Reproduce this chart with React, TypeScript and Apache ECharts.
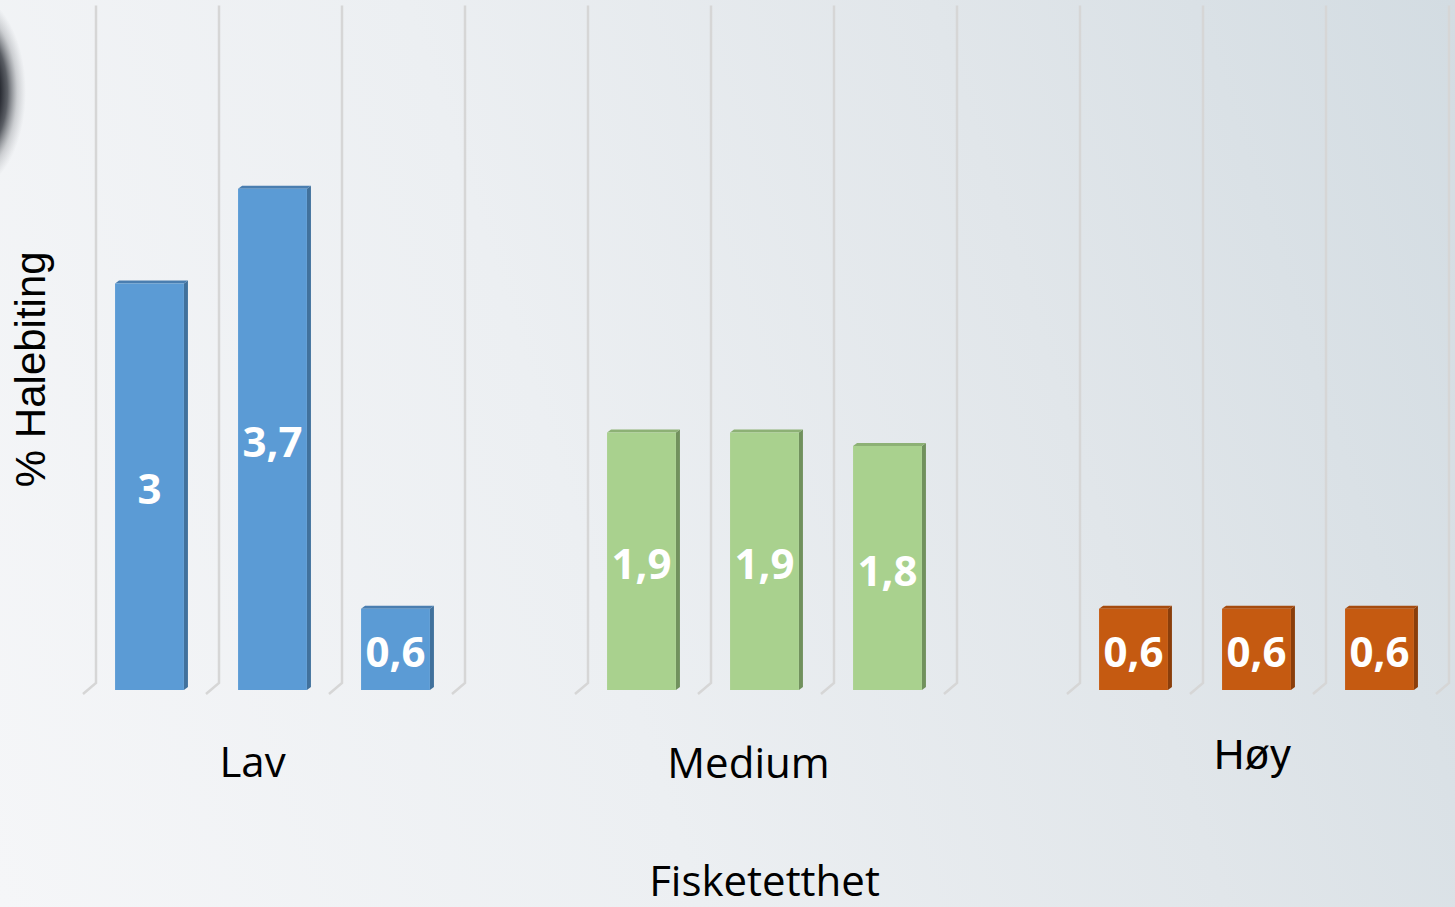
import React, { useEffect, useRef } from 'react';
import * as echarts from 'echarts';

// ---- data ----
const groups = ['Lav', 'Medium', 'Høy'];
const lavValues = [3, 3.7, 0.6];
const mediumValues = [1.9, 1.9, 1.8];
const hoyValues = [0.6, 0.6, 0.6];
const groupValues = [lavValues, mediumValues, hoyValues];
const yTitle = '% Halebiting';
const xTitle = 'Fisketetthet';
const yMin = 0;
const yMax = 5;

// ---- styles ----
const groupColors = [
  { front: '#5b9bd5', side: '#41719c', top: '#4a7eb0' },
  { front: '#a9d18e', side: '#71915d', top: '#8db175' },
  { front: '#c55a11', side: '#8a3e0b', top: '#a64b0e' },
];
const groupLabelStyle = [
  { padding: [9, 40, 0, 0], fontFamily: 'Open Sans' },
  { padding: [10, 32, 0, 0], fontFamily: 'Open Sans' },
  { padding: [3, 8, 0, 0], fontFamily: 'Liberation Sans' },
];

type Slot = { name: string; group: number; pos: number; value: number | null };
const slots: Slot[] = [];
groups.forEach((g, gi) => {
  if (gi > 0) slots.push({ name: `gap-${gi}`, group: -1, pos: -1, value: null });
  groupValues[gi].forEach((v, k) => slots.push({ name: `${g}-${k + 1}`, group: gi, pos: k, value: v }));
});

const fmt = (v: number) => String(v).replace('.', ',');

export default function App() {
  const ref = useRef<HTMLDivElement>(null);
  useEffect(() => {
    if (!ref.current) return;
    const chart = echarts.init(ref.current, null, { renderer: 'svg' });

    const axisData = slots.map((s) => {
      if (s.pos === 1) {
        return { value: s.name, textStyle: groupLabelStyle[s.group] };
      }
      return { value: s.name };
    });

    const barData = slots
      .map((s, i) => (s.value == null ? null : [i, s.value, s.group]))
      .filter((d) => d != null);

    const gridData = slots.map((s, i) => [i, 0]);

    const DX = 4, DY = 3; // bar depth
    const GX = 8, GY = 7, FX = 5, FY = 4; // wall / floor offsets

    chart.setOption({
      animation: false,
      grid: { left: 88, right: 14, top: 12.5, bottom: 217 },
      graphic: [
        {
          type: 'ellipse',
          shape: { cx: -32, cy: 92, rx: 58, ry: 100 },
          silent: true,
          style: {
            fill: new echarts.graphic.RadialGradient(0.5, 0.5, 0.5, [
              { offset: 0, color: 'rgba(12,14,20,1)' },
              { offset: 0.5, color: 'rgba(18,20,28,1)' },
              { offset: 0.68, color: 'rgba(40,44,52,0.75)' },
              { offset: 0.85, color: 'rgba(90,94,100,0.25)' },
              { offset: 1, color: 'rgba(120,124,130,0)' },
            ]),
          },
        },
      ],
      xAxis: {
        type: 'category',
        data: axisData,
        axisLine: { show: false },
        axisTick: { show: false },
        splitLine: { show: false },
        axisLabel: {
          interval: 0,
          margin: 40,
          fontSize: 42,
          fontFamily: 'Open Sans',
          color: '#000',
          formatter: (val: string) => {
            const s = slots.find((x) => x.name === val);
            return s && s.pos === 1 ? groups[s.group] : '';
          },
        },
        name: xTitle,
        nameLocation: 'middle',
        nameGap: 172,
        nameTextStyle: { fontSize: 42, lineHeight: 34, fontFamily: 'Open Sans', color: '#000' },
      },
      yAxis: {
        type: 'value',
        min: yMin,
        max: yMax,
        axisLine: { show: false },
        axisTick: { show: false },
        axisLabel: { show: false },
        splitLine: { show: false },
        name: yTitle,
        nameLocation: 'middle',
        nameGap: 37,
        nameTextStyle: {
          fontSize: 42,
          fontFamily: 'Liberation Sans',
          color: '#000',
          padding: [0, 36, 0, 0],
        },
      },
      series: [
        {
          type: 'custom',
          z: 1,
          silent: true,
          data: gridData,
          renderItem: (params: any, api: any) => {
            const idx = api.value(0);
            const base = api.coord([idx, yMin]);
            const topP = api.coord([idx, yMax]);
            const size = api.size([1, 0])[0];
            const lines: number[] = [base[0] - size / 2];
            if (idx === slots.length - 1) lines.push(base[0] + size / 2);
            return {
              type: 'group',
              children: lines.map((bx) => ({
                type: 'polyline',
                shape: {
                  points: [
                    [bx + GX, topP[1] - GY],
                    [bx + GX, base[1] - GY],
                    [bx - FX, base[1] + FY],
                  ],
                },
                style: { stroke: '#d6d6d6', lineWidth: 2.5, fill: 'none' },
              })),
            };
          },
        },
        {
          type: 'custom',
          z: 2,
          data: barData,
          renderItem: (params: any, api: any) => {
            const idx = api.value(0);
            const v = api.value(1);
            const gi = api.value(2);
            const top = api.coord([idx, v]);
            const base = api.coord([idx, 0]);
            const w = api.size([1, 0])[0] * 0.56;
            const xl = top[0] - w / 2;
            const xr = top[0] + w / 2;
            const c = groupColors[gi];
            return {
              type: 'group',
              children: [
                {
                  type: 'polygon',
                  shape: { points: [[xr, top[1]], [xr + DX, top[1] - DY], [xr + DX, base[1] - DY], [xr, base[1]]] },
                  style: { fill: c.side },
                },
                {
                  type: 'polygon',
                  shape: { points: [[xl, top[1]], [xl + DX, top[1] - DY], [xr + DX, top[1] - DY], [xr, top[1]]] },
                  style: { fill: c.top },
                },
                {
                  type: 'rect',
                  shape: { x: xl, y: top[1], width: w, height: base[1] - top[1] },
                  style: { fill: c.front },
                },
                {
                  type: 'text',
                  x: top[0],
                  y: (top[1] + base[1]) / 2 + 1,
                  style: {
                    text: fmt(v),
                    fill: '#ffffff',
                    fontSize: 42,
                    fontWeight: 'bold',
                    fontFamily: 'Open Sans',
                    align: 'center',
                    verticalAlign: 'middle',
                  },
                },
              ],
            };
          },
        },
      ],
    });
    return () => chart.dispose();
  }, []);

  return (
    <div
      style={{
        position: 'absolute',
        left: 0,
        top: 0,
        width: 1455,
        height: 907,
        background: 'linear-gradient(72deg, #f5f6f8 0%, #eceff2 40%, #e1e6ea 70%, #d3dce2 100%)',
      }}
    >
      <div ref={ref} style={{ width: 1455, height: 907 }} />
    </div>
  );
}
